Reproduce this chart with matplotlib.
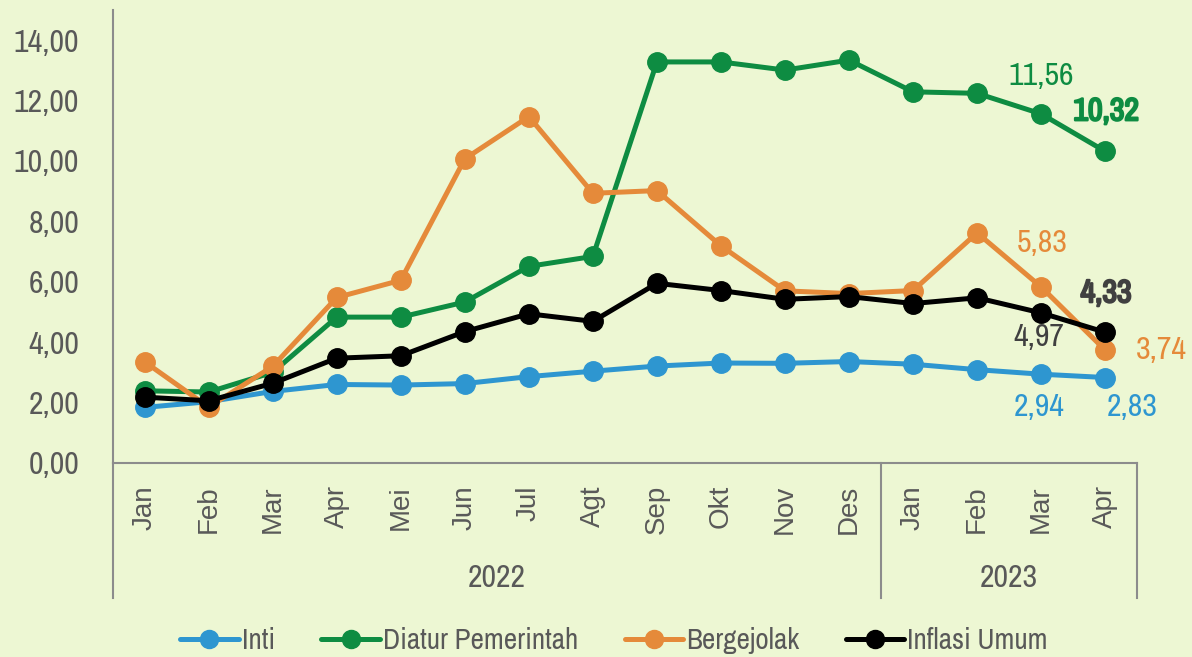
import matplotlib
matplotlib.use("Agg")
import matplotlib.pyplot as plt
from matplotlib import font_manager
from matplotlib.lines import Line2D
import matplotlib.patheffects as pe

months = ["Jan", "Feb", "Mar", "Apr", "Mei", "Jun", "Jul", "Agt", "Sep", "Okt", "Nov", "Des",
          "Jan", "Feb", "Mar", "Apr"]
years = ["2022", "2023"]
year_counts = [12, 4]

inti = [1.84, 2.03, 2.37, 2.60, 2.58, 2.63, 2.86, 3.04, 3.21, 3.31, 3.30, 3.36, 3.27, 3.09, 2.94, 2.83]
diatur = [2.39, 2.35, 3.00, 4.83, 4.83, 5.33, 6.51, 6.84, 13.28, 13.28, 13.01, 13.34, 12.29, 12.24, 11.56, 10.32]
bergejolak = [3.35, 1.85, 3.20, 5.48, 6.05, 10.07, 11.47, 8.93, 9.02, 7.19, 5.70, 5.61, 5.71, 7.62, 5.83, 3.74]
umum = [2.18, 2.06, 2.64, 3.47, 3.55, 4.35, 4.94, 4.69, 5.95, 5.71, 5.42, 5.51, 5.28, 5.47, 4.97, 4.33]

series_names = ["Inti", "Diatur Pemerintah", "Bergejolak", "Inflasi Umum"]
series_values = [inti, diatur, bergejolak, umum]
colors = ["#2E96D0", "#0E8C42", "#E58A3A", "#000000"]

yticks = [0, 2, 4, 6, 8, 10, 12, 14]

avail = {f.name for f in font_manager.fontManager.ttflist}
def pick(cands):
    for c in cands:
        if c in avail:
            return c
    return "DejaVu Sans"
narrow = pick(["Liberation Sans Narrow", "Arial Narrow", "Archivo Narrow", "Roboto Condensed",
               "Barlow Semi Condensed"])
regular = pick(["Liberation Sans", "Arimo", "Arial"])

bg = "#EDF7D3"
gray = "#595959"
spine = "#8C8C8C"

fig = plt.figure(figsize=(11.92, 6.57), dpi=100)
fig.patch.set_facecolor(bg)
ax = fig.add_axes([0.0945, 0.2953, 0.8595, 0.6895])
ax.set_facecolor(bg)

x = list(range(len(months)))
for name, vals, c in zip(series_names, series_values, colors):
    ax.plot(x, vals, color=c, lw=3.6, marker="o", ms=14, label=name, solid_capstyle="round")

ax.set_xlim(-0.5, len(months) - 0.5)
ax.set_ylim(0, 15)
ax.set_yticks(yticks)
ax.set_yticklabels([f"{v:.2f}".replace(".", ",") for v in yticks], fontfamily=narrow,
                   fontsize=23, color=gray)
ax.set_xticks(x)
ax.set_xticklabels(months, rotation=90, fontfamily=regular, fontsize=20, color=gray,
                   va="top")
ax.tick_params(axis="both", length=0)
ax.tick_params(axis="y", pad=24)
ax.tick_params(axis="x", pad=16)

for s in ["top", "right"]:
    ax.spines[s].set_visible(False)
for s in ["left", "bottom"]:
    ax.spines[s].set_color(spine)
    ax.spines[s].set_linewidth(1.5)

# multi-level category separators
trans = ax.get_xaxis_transform()
bottom_y = -135 / 453
bounds = [-0.5]
for n in year_counts:
    bounds.append(bounds[-1] + n)
for b in bounds:
    ax.add_line(Line2D([b, b], [0, bottom_y], transform=trans, color=spine, lw=1.5, clip_on=False))
for i, yr in enumerate(years):
    cx = (bounds[i] + bounds[i + 1]) / 2
    ax.text(cx, -115 / 453, yr, transform=trans, ha="center", va="center",
            fontfamily=narrow, fontsize=23, color=gray)

# data labels
def lab(xi, yi, txt, dx, dy, color, bold=False):
    t = ax.annotate(txt, (xi, yi), xytext=(dx, dy), textcoords="offset pixels",
                    ha="center", va="center", fontfamily=narrow, fontsize=23, color=color)
    if bold:
        t.set_path_effects([pe.withStroke(linewidth=1.6, foreground=color)])

fmt = lambda v: f"{v:.2f}".replace(".", ",")
lab(14, diatur[14], fmt(diatur[14]), 0, 38, colors[1])
lab(15, diatur[15], fmt(diatur[15]), 1, 40, colors[1], bold=True)
lab(14, bergejolak[14], fmt(bergejolak[14]), 1, 44, colors[2])
lab(15, umum[15], fmt(umum[15]), 1, 39, "#404040", bold=True)
lab(14, umum[14], fmt(umum[14]), -2, -24, "#404040")
lab(15, bergejolak[15], fmt(bergejolak[15]), 56, 0, colors[2])
lab(14, inti[14], fmt(inti[14]), -2, -33, colors[0])
lab(15, inti[15], fmt(inti[15]), 27, -29, colors[0])

leg = fig.legend(loc="center", bbox_to_anchor=(0.515, 0.025), ncol=4, frameon=False,
                 prop={"family": narrow, "size": 21}, handlelength=2.0, handletextpad=0.1,
                 columnspacing=1.6, labelcolor=gray)
for h in leg.legend_handles:
    h.set_markersize(13)

fig.savefig("out.png", dpi=100, facecolor=bg)
